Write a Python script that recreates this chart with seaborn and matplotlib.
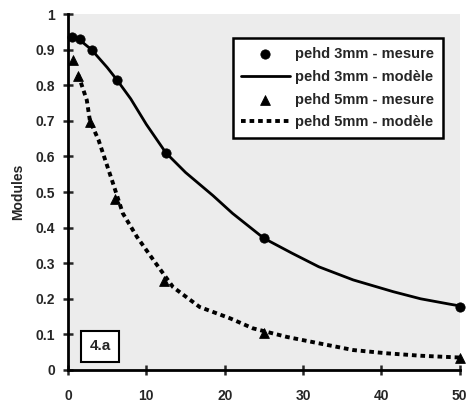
import matplotlib
matplotlib.use("Agg")
import matplotlib.pyplot as plt
import seaborn as sns
import pandas as pd

# measured points
x_3mm = [0.5, 1.5, 3.0, 6.25, 12.5, 25.0, 50.0]
y_3mm = [0.935, 0.93, 0.90, 0.815, 0.61, 0.37, 0.177]
x_5mm = [0.7, 1.3, 2.8, 6.0, 12.3, 25.0, 50.0]
y_5mm = [0.87, 0.826, 0.697, 0.48, 0.25, 0.104, 0.034]

# model curves
xm_3mm = [0, 1, 2, 3, 5, 6.25, 8, 10, 12.5, 15, 18.5, 21, 25, 28.6, 32, 36.4, 41.5, 45, 48.7, 50]
ym_3mm = [0.937, 0.932, 0.918, 0.90, 0.85, 0.815, 0.762, 0.69, 0.61, 0.555, 0.49, 0.44, 0.37,
          0.328, 0.29, 0.253, 0.22, 0.20, 0.185, 0.18]
xm_5mm = [1.3, 2.4, 2.8, 3.9, 5.6, 7.0, 8.8, 10.9, 13.4, 16.8, 20.7, 23.6, 27.9, 32, 36.4, 40.6, 45, 50]
ym_5mm = [0.83, 0.758, 0.70, 0.646, 0.534, 0.44, 0.374, 0.309, 0.233, 0.177, 0.145, 0.117,
          0.093, 0.075, 0.056, 0.047, 0.04, 0.035]

labels = ["pehd 3mm - mesure", "pehd 3mm - modèle", "pehd 5mm - mesure", "pehd 5mm - modèle"]

sns.set_style("ticks")
plt.rcParams['font.family'] = ['Liberation Sans', 'DejaVu Sans']
plt.rcParams['font.weight'] = 'bold'

fig = plt.figure(figsize=(4.67, 4.04), dpi=100)
ax = fig.add_axes([0.1456, 0.0842, 0.839, 0.881])
ax.set_facecolor('#ececec')

sns.lineplot(x=xm_3mm, y=ym_3mm, ax=ax, color='black', lw=2.0, label=labels[1])
sns.lineplot(x=xm_5mm, y=ym_5mm, ax=ax, color='black', lw=2.8, label=labels[3])
ax.lines[-1].set_dashes([1.2, 1.0])
sns.scatterplot(x=x_3mm, y=y_3mm, ax=ax, color='black', marker='o', s=45,
                edgecolor='black', label=labels[0], clip_on=False, zorder=5)
sns.scatterplot(x=x_5mm, y=y_5mm, ax=ax, color='black', marker='^', s=50,
                edgecolor='black', label=labels[2], clip_on=False, zorder=5)

ax.set_xlim(0, 50)
ax.set_ylim(0, 1)
ax.set_xticks([0, 10, 20, 30, 40, 50])
ax.set_yticks([0, 0.1, 0.2, 0.3, 0.4, 0.5, 0.6, 0.7, 0.8, 0.9, 1])
ax.set_yticklabels(['0', '0.1', '0.2', '0.3', '0.4', '0.5', '0.6', '0.7', '0.8', '0.9', '1'])
ax.tick_params(direction='inout', length=7, width=1.8, labelsize=10, pad=6)
ax.tick_params(axis='x', pad=10)
for lab in ax.get_xticklabels() + ax.get_yticklabels():
    lab.set_fontweight('bold')
sns.despine(ax=ax)
for s in ['left', 'bottom']:
    ax.spines[s].set_linewidth(2.0)
    ax.spines[s].set_color('black')
ax.set_ylabel("Modules", fontsize=10, fontweight='bold', labelpad=7)

h, l = ax.get_legend_handles_labels()
order = [l.index(x) for x in labels]
leg = ax.legend([h[i] for i in order], labels, loc='upper right', bbox_to_anchor=(0.976, 0.952),
                frameon=True, fancybox=False, edgecolor='black', facecolor='white',
                framealpha=1, handlelength=3.3, labelspacing=0.6,
                borderpad=0.6, handletextpad=0.4, prop={'weight': 'bold', 'size': 10.5})
leg.get_frame().set_linewidth(1.8)

ax.text(0.082, 0.067, "4.a", transform=ax.transAxes, ha='center', va='center',
        fontsize=11, fontweight='bold',
        bbox=dict(boxstyle='square,pad=0.55', fc='white', ec='black', lw=1.5))

fig.savefig("out.png", dpi=100)
